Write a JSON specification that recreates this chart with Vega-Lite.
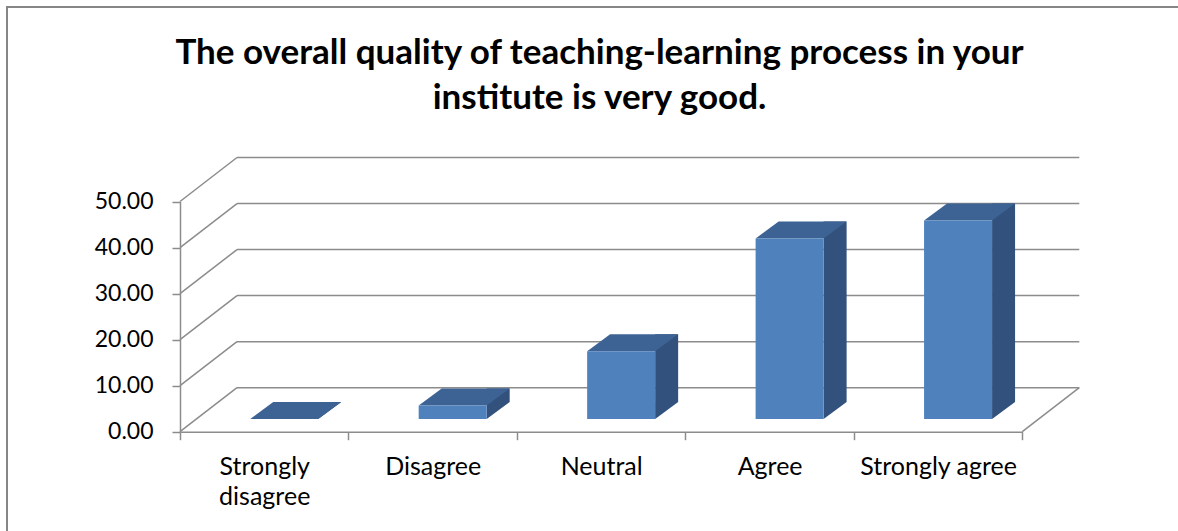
{
  "$schema": "https://vega.github.io/schema/vega-lite/v6.json",
  "autosize": "none",
  "width": 1171,
  "height": 524,
  "padding": {"left": 7, "top": 7, "right": 0, "bottom": 0},
  "background": "white",
  "config": {
    "view": {"stroke": "#868686", "strokeWidth": 2, "strokeDash": [1171, 1695, 524]},
    "font": "Lato"
  },
  "title": {
    "text": ["The overall quality of teaching-learning process in your", "institute is very good."],
    "font": "Lato",
    "fontSize": 35,
    "fontWeight": "bold",
    "color": "#000000",
    "anchor": "middle",
    "frame": "group",
    "lineHeight": 45,
    "offset": -109,
    "dx": 7
  },
  "datasets": {
    "survey": [
      {"response": "Strongly disagree", "percent": 0},
      {"response": "Disagree", "percent": 2.94},
      {"response": "Neutral", "percent": 14.71},
      {"response": "Agree", "percent": 39.22},
      {"response": "Strongly agree", "percent": 43.14}
    ],
    "ticks": [{"v": 0}, {"v": 10}, {"v": 20}, {"v": 30}, {"v": 40}, {"v": 50}]
  },
  "resolve": {"scale": {"x": "independent"}},
  "layer": [
    {
      "data": {"name": "ticks"},
      "layer": [
        {
          "mark": {"type": "rule", "color": "#8c8c8c", "strokeWidth": 1.5, "xOffset": 57, "x2Offset": 57, "yOffset": -44, "y2Offset": -44},
          "encoding": {
            "x": {"datum": 0, "type": "quantitative", "scale": {"domain": [0, 1], "range": [173, 1015.3], "nice": false, "zero": false}, "axis": null},
            "x2": {"datum": 1},
            "y": {
              "field": "v",
              "type": "quantitative",
              "scale": {"domain": [0, 50], "range": [424.7, 194.5], "nice": false},
              "axis": {
                "title": null,
                "orient": "left",
                "offset": -173,
                "values": [0, 10, 20, 30, 40, 50],
                "format": ".2f",
                "grid": false,
                "tickSize": 8,
                "tickColor": "#8c8c8c",
                "tickWidth": 1.5,
                "domainColor": "#8c8c8c",
                "domainWidth": 1.5,
                "labelFont": "Lato",
                "labelFontSize": 23,
                "labelColor": "#000000",
                "labelPadding": 19
              }
            }
          }
        },
        {
          "mark": {"type": "rule", "color": "#8c8c8c", "strokeWidth": 1.5, "x2Offset": 57, "y2Offset": -44},
          "encoding": {
            "x": {"datum": 0, "type": "quantitative", "axis": null},
            "x2": {"datum": 0},
            "y": {"field": "v", "type": "quantitative"},
            "y2": {"field": "v"}
          }
        },
        {
          "transform": [{"filter": "datum.v == 0"}],
          "mark": {"type": "rule", "color": "#8c8c8c", "strokeWidth": 1.5, "x2Offset": 57, "y2Offset": -44},
          "encoding": {
            "x": {"datum": 1, "type": "quantitative", "axis": null},
            "x2": {"datum": 1},
            "y": {"field": "v", "type": "quantitative"},
            "y2": {"field": "v"}
          }
        }
      ]
    },
    {
      "data": {"name": "survey"},
      "encoding": {
        "x": {
          "field": "response",
          "type": "nominal",
          "sort": null,
          "scale": {"range": [173, 1015.3], "paddingInner": 0, "paddingOuter": 0},
          "axis": {
            "title": null,
            "orient": "bottom",
            "offset": -99.3,
            "tickBand": "extent",
            "tickSize": 8,
            "tickColor": "#8c8c8c",
            "tickWidth": 1.5,
            "domainColor": "#8c8c8c",
            "domainWidth": 1.5,
            "labelAngle": 0,
            "labelFont": "Lato",
            "labelFontSize": 25,
            "labelColor": "#000000",
            "labelPadding": 15,
            "labelLimit": 400,
            "labelLineHeight": 30,
            "labelExpr": "datum.label == 'Strongly disagree' ? ['Strongly', 'disagree'] : datum.label"
          }
        }
      },
      "layer": [
        {
          "mark": {"type": "bar", "width": 23, "xOffset": 65.5, "yOffset": -29.7, "y2Offset": -29.7, "color": "#32527d"},
          "encoding": {"y": {"field": "percent", "type": "quantitative"}}
        },
        {
          "mark": {"type": "point", "shape": "M0,0L0,-17L23,-17Z", "size": 4, "filled": true, "opacity": 1, "color": "#32527d", "strokeWidth": 0, "xOffset": 54, "yOffset": -12.7},
          "encoding": {"y": {"datum": 0, "type": "quantitative"}}
        },
        {
          "mark": {"type": "point", "shape": "M0,0L68,0L91,-17L23,-17Z", "size": 4, "filled": true, "opacity": 1, "color": "#3d6394", "strokeWidth": 0, "xOffset": -14, "yOffset": -12.7},
          "encoding": {"y": {"field": "percent", "type": "quantitative"}}
        },
        {
          "mark": {"type": "bar", "width": 68, "xOffset": 20, "yOffset": -12.7, "y2Offset": -12.7, "color": "#4f81bd"},
          "encoding": {"y": {"field": "percent", "type": "quantitative"}}
        }
      ]
    }
  ]
}
